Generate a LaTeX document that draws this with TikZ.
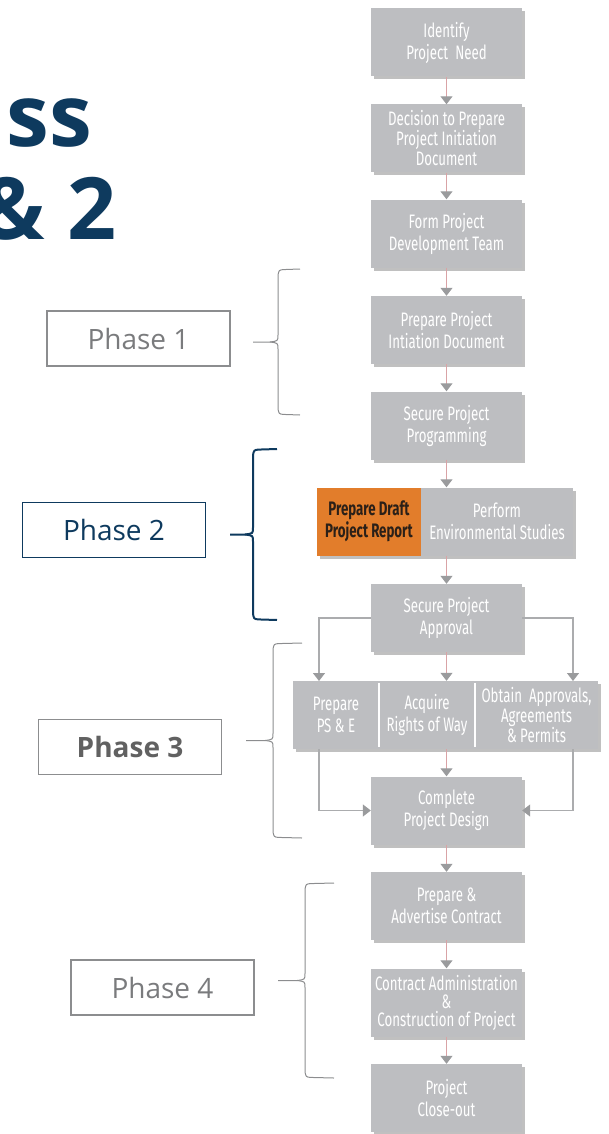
\documentclass[tikz,border=0pt]{standalone}
\usepackage{fontspec}
\setmainfont{Open Sans}
\newfontfamily\boxfont[FakeStretch=0.68]{Fira Sans}
\usetikzlibrary{arrows.meta,shadows}
\definecolor{boxgray}{HTML}{BDBEC1}
\definecolor{navy}{HTML}{0E3A5E}
\definecolor{phasetext}{HTML}{7A7B7D}
\definecolor{framegray}{HTML}{8C8D8F}
\definecolor{linkpink}{HTML}{D9A3A6}
\definecolor{tipgray}{HTML}{9A9B9D}
\definecolor{branchgray}{HTML}{ABACAE}
\definecolor{draftorange}{HTML}{E27D2B}
\definecolor{drafttext}{HTML}{2B2018}
\newcommand\phbrace[6]{%
  \draw[#1] (#4,#5) -- (#3+5,#5+0.6) .. controls (#3+1,#5+1.2) .. (#3,#5+6)
    -- (#3,{(#5+#6)/2-7}) .. controls (#3,{(#5+#6)/2-1}) .. (#3-8,{(#5+#6)/2})
    -- (#2,{(#5+#6)/2});
  \draw[#1] (#3-8,{(#5+#6)/2}) .. controls (#3,{(#5+#6)/2+1}) .. (#3,{(#5+#6)/2+7})
    -- (#3,#6-6) .. controls (#3+1,#6-1.2) .. (#3+5,#6-0.6) -- (#4,#6);}
\begin{document}
\begin{tikzpicture}[x=1pt,y=-1pt,
  stepbox/.style={rectangle, fill=boxgray, minimum width=151pt, minimum height=68pt,
    inner sep=0pt, text=white, align=center,
    font=\boxfont\fontsize{19.5}{22}\selectfont,
    drop shadow={shadow xshift=3pt, shadow yshift=-3pt, fill=black!55, opacity=0.45}},
  threeline/.style={font=\boxfont\fontsize{19.5}{20}\selectfont},
  celltext/.style={inner sep=0pt, text=white, align=center,
    font=\boxfont\fontsize{19.5}{20}\selectfont},
  link/.style={draw=linkpink, line width=1pt,
    -{Triangle[width=12pt,length=8pt,color=tipgray]}},
  branch/.style={draw=branchgray, line width=1.3pt,
    -{Triangle[width=12pt,length=8pt,color=tipgray]}},
  phasebox/.style={draw=framegray, line width=1.2pt, minimum width=183pt,
    minimum height=55pt, inner sep=0pt, text=phasetext,
    font=\fontsize{28}{30}\selectfont},
  title/.style={anchor=base east, inner sep=0pt, text=navy,
    font=\fontsize{86}{86}\selectfont\bfseries}
]
\useasboundingbox (0,0) rectangle (608,1134);
\begin{scope}
\clip (0,0) rectangle (608,1134);
\node[title] (t1) at (92,147) {ss};
\node[title] (t2) at (117,239) {\& 2};
\end{scope}

% main column
\node[stepbox] (b1) at (446.5,42.5) {Identify\\Project~~Need};
\node[stepbox, threeline] (b2) at (446.5,138.5) {Decision to Prepare\\Project Initiation\\Document};
\node[stepbox] (b3) at (446.5,233.5) {Form Project\\Development Team};
\node[stepbox] (b4) at (446.5,330) {Prepare Project\\Intiation Document};
\node[stepbox] (b5) at (446.5,425.5) {Secure Project\\Programming};
\node[stepbox, minimum width=256pt] (b6) at (445,521.5) {};
\node[rectangle, fill=draftorange, minimum width=104pt, minimum height=68pt,
  inner sep=0pt, align=center, text=drafttext,
  font=\boxfont\fontsize{19.5}{22}\selectfont] (draft) at (369,521.5)
  {\textbf{Prepare Draft}\\\textbf{Project Report}};
\node[celltext, font=\boxfont\fontsize{19.5}{22}\selectfont] (env) at (497,521.5) {Perform\\Environmental Studies};
\node[stepbox] (b7) at (446.5,618) {Secure Project\\Approval};
\node[stepbox, minimum width=305pt] (b8) at (445.5,715) {};
\node[celltext, font=\boxfont\fontsize{19.5}{22}\selectfont] (c1) at (336,715) {Prepare\\PS \& E};
\node[celltext, font=\boxfont\fontsize{19.5}{22}\selectfont] (c2) at (427,715) {Acquire\\Rights of Way};
\node[celltext] (c3) at (536.5,715) {Obtain~~Approvals,\\Agreements\\\& Permits};
\draw[white, line width=1.5pt] (379,683) -- (379,747);
\draw[white, line width=1.5pt] (475,683) -- (475,747);
\node[stepbox] (b9) at (446.5,810.5) {Complete\\Project Design};
\node[stepbox] (b10) at (446.5,906) {Prepare \&\\Advertise Contract};
\node[stepbox, threeline] (b11) at (446.5,1002.5) {Contract Administration\\[-2pt]\&\\[-2pt]Construction of Project};
\node[stepbox] (b12) at (446.5,1098) {Project\\Close-out};

% arrows
\draw[link] (b1.south) -- (b2.north);
\draw[link] (b2.south) -- (b3.north);
\draw[link] (b3.south) -- (b4.north);
\draw[link] (b4.south) -- (b5.north);
\draw[link] (b5.south) -- (b5.south |- b6.north);
\draw[link] (b5.south |- b6.south) -- (b7.north);
\draw[link] (b7.south) -- (b7.south |- b8.north);
\draw[link] (b9.north |- b8.south) -- (b9.north);
\draw[link] (b9.south) -- (b10.north);
\draw[link] (b10.south) -- (b11.north);
\draw[link] (b11.south) -- (b12.north);

\coordinate (lt) at (319,681);
\coordinate (rt) at (573,681);
\coordinate (lb) at (319,749);
\coordinate (rb) at (573,749);
\draw[branch] (b7.west) -| (lt);
\draw[branch] (b7.east) -| (rt);
\draw[branch] (lb) |- (b9.west);
\draw[branch] (rb) |- (b9.east);

% phase labels
\node[phasebox] (p1) at (138.5,338.5) {Phase 1};
\node[phasebox, draw=navy, text=navy, line width=1.6pt] (p2) at (114,530) {Phase 2};
\node[phasebox, font=\fontsize{28}{30}\selectfont\bfseries, text=black!62] (p3) at (130,747) {Phase 3};
\node[phasebox] (p4) at (162.5,987.5) {Phase 4};

\phbrace{draw=framegray, line width=1pt}{253}{278}{300}{269}{415}
\phbrace{draw=navy, line width=2pt}{230}{253}{277}{449}{620}
\phbrace{draw=framegray, line width=1pt}{246}{273}{302}{643}{838}
\phbrace{draw=framegray, line width=1pt}{278}{305}{334}{883}{1078}
\end{tikzpicture}
\end{document}
